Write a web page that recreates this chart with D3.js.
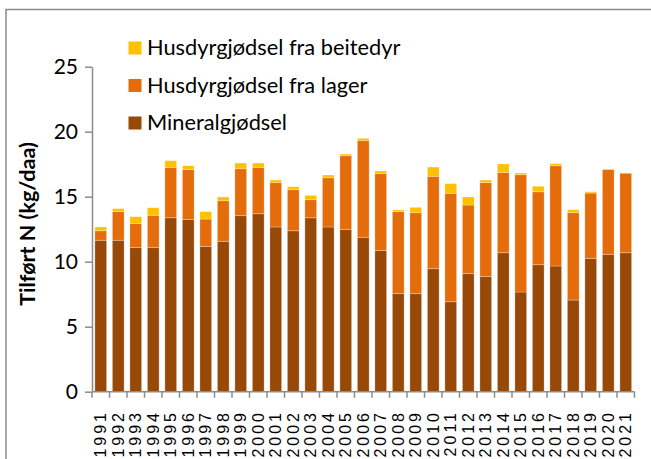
<!DOCTYPE html>
<html>
<head>
<meta charset="utf-8">
<script src="https://cdn.jsdelivr.net/npm/d3@7"></script>
<style>
  body { margin: 0; background: #fff; }
  svg { display: block; }
</style>
</head>
<body>
<svg id="chart" width="651" height="459"></svg>
<script>
// years on the x axis
const years = d3.range(1991, 2022).map(String)

// N (kg/daa) per source
const mineral = [11.65, 11.65, 11.08, 11.08, 13.38, 13.26, 11.18, 11.57, 13.54, 13.69,
                 12.67, 12.38, 13.38, 12.67, 12.49, 11.88, 10.85, 7.54, 7.54, 9.46,
                 6.92, 9.08, 8.85, 10.69, 7.67, 9.77, 9.67, 7.05, 10.26, 10.57, 10.69]
const lager = [0.73, 2.2, 1.87, 2.49, 3.88, 3.82, 2.1, 3.12, 3.61, 3.57,
               3.41, 3.16, 1.39, 3.79, 5.66, 7.43, 5.92, 6.31, 6.23, 7.11,
               8.34, 5.28, 7.23, 6.16, 9.02, 5.61, 7.71, 6.72, 5.02, 6.53, 6.11]
const beite = [0.29, 0.23, 0.51, 0.58, 0.51, 0.3, 0.57, 0.29, 0.44, 0.33,
               0.2, 0.23, 0.33, 0.21, 0.13, 0.18, 0.21, 0.13, 0.41, 0.71,
               0.74, 0.62, 0.2, 0.67, 0.13, 0.42, 0.16, 0.23, 0.1, 0.02, 0]

const yTicks = [0, 5, 10, 15, 20, 25]
const seriesNames = ["Mineralgjødsel", "Husdyrgjødsel fra lager", "Husdyrgjødsel fra beitedyr"]
const colors = ["#984807", "#E46C0A", "#FFC000"]

const rows = years.map((y, i) => ({year: y, m: mineral[i], l: lager[i], b: beite[i]}))

const svg = d3.select("#chart")
const gridCol = "#8c8c8c"
const labelFont = "Lato, 'Open Sans', sans-serif"

// outer frame (runs off the right and bottom)
svg.append("rect")
    .attr("x", 6).attr("y", 9.5)
    .attr("width", 700).attr("height", 500)
    .attr("fill", "none")
    .attr("stroke", gridCol)
    .attr("stroke-width", 1.5)

const x = d3.scaleBand()
    .domain(years)
    .range([92, 634.5])
    .paddingInner(0.33)
    .paddingOuter(0.165)

const y = d3.scaleLinear()
    .domain([0, 25])
    .range([391.7, 66.7])

const stack = d3.stack().keys(["m", "l", "b"])
const layers = stack(rows)

svg.append("g")
    .selectAll("g")
    .data(layers)
    .join("g")
    .attr("fill", (d, i) => colors[i])
    .selectAll("rect")
    .data(d => d)
    .join("rect")
    .attr("x", d => x(d.data.year))
    .attr("width", x.bandwidth())
    .attr("y", d => y(d[1]))
    .attr("height", d => Math.max(0, y(d[0]) - y(d[1])))
    .attr("stroke", "rgba(255,255,255,0.35)")
    .attr("stroke-width", 0.8)

// y axis
const yAxis = svg.append("g")
    .attr("transform", "translate(92,0)")
    .call(d3.axisLeft(y).tickValues(yTicks).tickSize(7).tickSizeOuter(0).tickPadding(7))
yAxis.select(".domain").attr("stroke", gridCol).attr("stroke-width", 1.5)
yAxis.selectAll(".tick line").attr("stroke", gridCol).attr("stroke-width", 1.5)
yAxis.selectAll(".tick text")
    .style("font-family", labelFont)
    .style("font-size", "21px")
    .attr("fill", "#000")

// x axis: line, ticks between the bars, rotated year labels
const x0 = x.range()[0], step = x.step()
svg.append("line")
    .attr("x1", x0).attr("x2", x.range()[1])
    .attr("y1", y(0)).attr("y2", y(0))
    .attr("stroke", gridCol).attr("stroke-width", 1.5)
svg.append("g")
    .selectAll("line")
    .data(d3.range(years.length + 1))
    .join("line")
    .attr("x1", i => x0 + i * step).attr("x2", i => x0 + i * step)
    .attr("y1", y(0)).attr("y2", y(0) + 6)
    .attr("stroke", gridCol).attr("stroke-width", 1.5)

svg.append("g")
    .selectAll("text")
    .data(years)
    .join("text")
    .attr("transform", d => `translate(${x(d) + x.bandwidth() / 2 + 5.7},410) rotate(-90)`)
    .attr("text-anchor", "end")
    .style("font-family", "'Liberation Sans', Arial, sans-serif")
    .style("font-size", "16px")
    .style("letter-spacing", "3px")
    .text(d => d)

// y title
svg.append("text")
    .attr("transform", "translate(35,224) rotate(-90)")
    .attr("text-anchor", "middle")
    .style("font-family", labelFont)
    .style("font-weight", "bold")
    .style("font-size", "21.5px")
    .text("Tilført N (kg/daa)")

// legend, top entry is the top of the stack
const legendRows = [2, 1, 0]
const lg = svg.append("g")
lg.selectAll("rect")
    .data(legendRows)
    .join("rect")
    .attr("x", 128.5)
    .attr("y", (d, i) => 41.5 + i * 37.5)
    .attr("width", 13).attr("height", 13)
    .attr("fill", d => colors[d])
lg.selectAll("text")
    .data(legendRows)
    .join("text")
    .attr("x", 147)
    .attr("y", (d, i) => 55 + i * 37.5)
    .style("font-family", labelFont)
    .style("font-size", "21.8px")
    .text(d => seriesNames[d])
</script>
</body>
</html>
